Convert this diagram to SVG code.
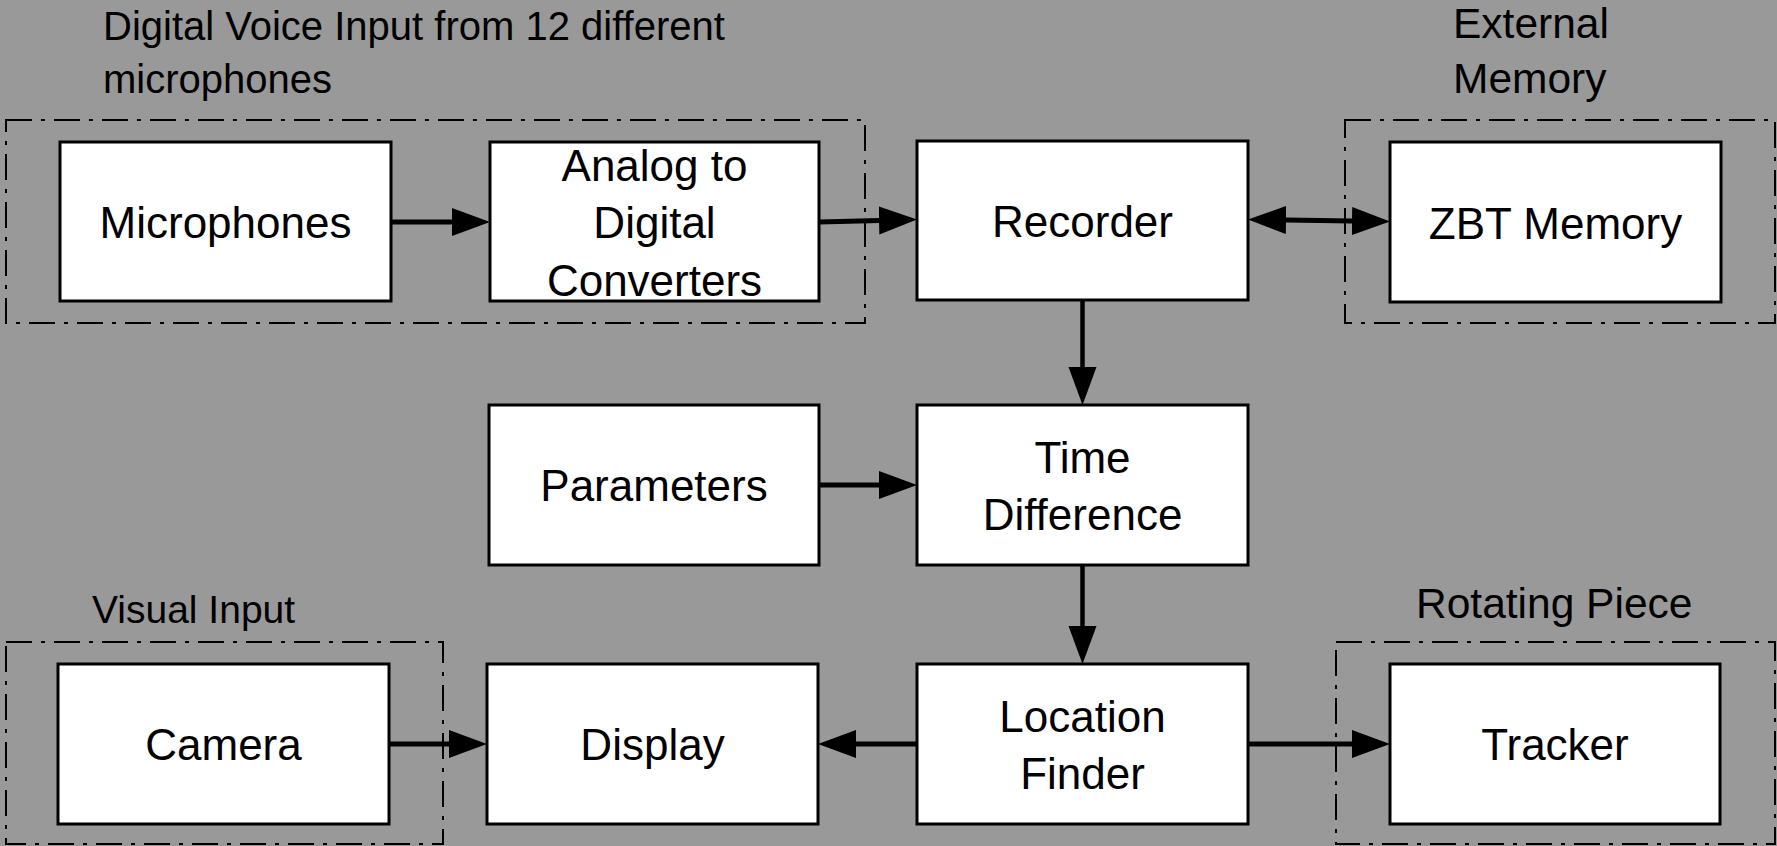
<svg xmlns="http://www.w3.org/2000/svg" width="1777" height="846" viewBox="0 0 1777 846">
<style>
.bg{fill:#999999}
.box{fill:#ffffff;stroke:#000;stroke-width:3}
.grp{fill:none;stroke:#000;stroke-width:2;stroke-dasharray:26 9 4 9}
.lbl{font-family:"Liberation Sans",Arial,sans-serif;font-size:44px;fill:#000;text-anchor:middle}
.cap{font-family:"Liberation Sans",Arial,sans-serif;fill:#000}
.con{stroke:#000;stroke-width:5;fill:none;marker-end:url(#ah)}
</style>
<defs>
<marker id="ah" markerUnits="userSpaceOnUse" markerWidth="39" markerHeight="29" refX="0" refY="14" orient="auto-start-reverse" viewBox="0 0 39 29">
<path d="M0,0 L38,14 L0,28 z" fill="#000"/>
</marker>
</defs>
<rect class="bg" x="0" y="0" width="1777" height="846"/>
<g id="groups">
<rect class="grp" x="6" y="120" width="859" height="203"/>
<rect class="grp" x="1345" y="120" width="430" height="203"/>
<rect class="grp" x="6" y="642" width="437" height="202"/>
<rect class="grp" x="1336" y="642" width="439" height="202"/>
<text class="cap" font-size="40" x="103" y="40">Digital Voice Input from 12 different</text>
<text class="cap" font-size="40" x="103" y="93">microphones</text>
<text class="cap" font-size="42.5" x="1453" y="38">External</text>
<text class="cap" font-size="42.5" x="1453" y="93">Memory</text>
<text class="cap" font-size="39" x="92" y="623">Visual Input</text>
<text class="cap" font-size="42.5" x="1416" y="618">Rotating Piece</text>
</g>
<g id="microphones"><rect class="box" x="60" y="142" width="331" height="159"/><text class="lbl" x="225.5" y="238">Microphones</text></g>
<g id="adc"><rect class="box" x="490" y="142" width="329" height="159"/><text class="lbl" x="654.5" y="181">Analog to</text><text class="lbl" x="654.5" y="238">Digital</text><text class="lbl" x="654.5" y="296">Converters</text></g>
<g id="recorder"><rect class="box" x="917" y="141" width="331" height="159"/><text class="lbl" x="1082.5" y="237">Recorder</text></g>
<g id="zbt"><rect class="box" x="1390" y="142" width="331" height="160"/><text class="lbl" x="1555.5" y="239">ZBT Memory</text></g>
<g id="parameters"><rect class="box" x="489" y="405" width="330" height="160"/><text class="lbl" x="654" y="501">Parameters</text></g>
<g id="timediff"><rect class="box" x="917" y="405" width="331" height="160"/><text class="lbl" x="1082.5" y="473">Time</text><text class="lbl" x="1082.5" y="530">Difference</text></g>
<g id="camera"><rect class="box" x="58" y="664" width="331" height="160"/><text class="lbl" x="223.5" y="760">Camera</text></g>
<g id="display"><rect class="box" x="487" y="664" width="331" height="160"/><text class="lbl" x="652.5" y="760">Display</text></g>
<g id="location"><rect class="box" x="917" y="664" width="331" height="160"/><text class="lbl" x="1082.5" y="732">Location</text><text class="lbl" x="1082.5" y="789">Finder</text></g>
<g id="tracker"><rect class="box" x="1390" y="664" width="330" height="160"/><text class="lbl" x="1555" y="760">Tracker</text></g>
<g id="connectors">
<line class="con" x1="391" y1="222" x2="452" y2="222"/>
<line class="con" x1="819" y1="222" x2="879" y2="220.5"/>
<line class="con" x1="1286" y1="220" x2="1352" y2="221" style="marker-start:url(#ah)"/>
<line class="con" x1="1082.5" y1="300" x2="1082.5" y2="367" style="stroke-width:4.5"/>
<line class="con" x1="819" y1="485" x2="879" y2="485"/>
<line class="con" x1="1082.5" y1="565" x2="1082.5" y2="626" style="stroke-width:4.5"/>
<line class="con" x1="917" y1="744" x2="856" y2="744"/>
<line class="con" x1="389" y1="744" x2="449" y2="744"/>
<line class="con" x1="1248" y1="744" x2="1352" y2="744"/>
</g>
</svg>
